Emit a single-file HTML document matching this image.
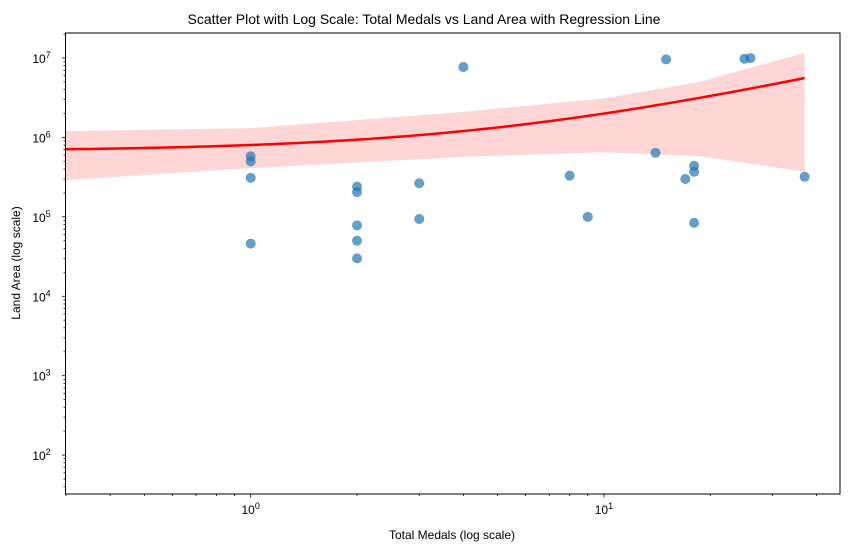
<!DOCTYPE html>
<html><head><meta charset="utf-8"><style>
body{margin:0;background:#fff;}
svg text{font-family:"Liberation Sans","DejaVu Sans",sans-serif;fill:#000;}
</style></head><body>
<svg id="chart" width="849" height="552" xmlns="http://www.w3.org/2000/svg">
<rect width="849" height="552" fill="#fff"/>
<g id="band"></g><g id="line"></g><g id="points"></g><g id="axes"></g>
<text x="424" y="24" text-anchor="middle" font-size="14">Scatter Plot with Log Scale: Total Medals vs Land Area with Regression Line</text>
<text x="452" y="539" text-anchor="middle" font-size="12">Total Medals (log scale)</text>
<text transform="translate(20,263) rotate(-90)" text-anchor="middle" font-size="12">Land Area (log scale)</text>
</svg>
<script>
const medals=[1,1,1,1,2,2,2,2,2,3,3,4,8,9,14,15,17,18,18,18,25,26,37];
const landArea=[580000,500000,310000,46000,240000,205000,78000,50000,30000,265000,94000,7700000,330000,100000,640000,9600000,300000,440000,370000,84000,9800000,9980000,320000];
const regIntercept=670000;
const regSlope=133000;
const bandX=[0.3,1,4,10,18.7,37];
const bandUpper=[1200000,1310000,2100000,3100000,5000000,11600000];
const bandLower=[290000,410000,570000,650000,580000,370000];
const xTickVals=[1,10];
const xTickLabels=["0","1"];
const yTickVals=[100,1000,10000,100000,1000000,10000000];
const yTickLabels=["2","3","4","5","6","7"];

const L=65.5,R=840,T=33,B=494;
const xLogMin=Math.log10(0.299),xLogMax=Math.log10(46.6);
const yLogMin=1.51,yLogMax=7.315;
const xs=v=>L+(Math.log10(v)-xLogMin)/(xLogMax-xLogMin)*(R-L);
const ys=v=>B-(Math.log10(v)-yLogMin)/(yLogMax-yLogMin)*(B-T);
const NS="http://www.w3.org/2000/svg";
function mk(tag,attrs,parent){const e=document.createElementNS(NS,tag);for(const k in attrs)e.setAttribute(k,attrs[k]);parent.appendChild(e);return e;}

// band
const bandG=document.getElementById('band');
let d="";
bandX.forEach((v,i)=>{d+=(i?"L":"M")+xs(v)+","+ys(bandUpper[i]);});
for(let i=bandX.length-1;i>=0;i--)d+="L"+xs(bandX[i])+","+ys(bandLower[i]);
const band=mk('path',{d:d+"Z",fill:"#ffd6d6"},bandG);



// regression line
const lineG=document.getElementById('line');
let ld="";const lo=Math.log10(0.3),hi=Math.log10(37);
for(let i=0;i<=100;i++){const m=Math.pow(10,lo+(hi-lo)*i/100);ld+=(i?"L":"M")+xs(m)+","+ys(regIntercept+regSlope*m);}
const rl=mk('path',{d:ld,fill:"none",stroke:"#ff0000","stroke-width":2.5},lineG);



// points
const pg=document.getElementById('points');
medals.forEach((m,i)=>{
 const c=mk('circle',{cx:xs(m),cy:ys(landArea[i]),r:5,fill:"#1f77b4","fill-opacity":0.7},pg);
 
 
});

// axes
const ag=document.getElementById('axes');
const frame=mk('rect',{x:L,y:T,width:R-L,height:B-T,fill:"none",stroke:"#000","stroke-width":1},ag);


// x ticks
for(let e=-1;e<=1;e++)for(let k=1;k<=9;k++){const v=k*Math.pow(10,e);if(v<0.299||v>46.6)continue;
 const x=xs(v);mk('line',{x1:x,x2:x,y1:B,y2:B+(k==1?3.5:2),stroke:"#000","stroke-width":0.8},ag);}
xTickVals.forEach((v,i)=>{const t=mk('text',{x:xs(v),y:B+20,"text-anchor":"middle","font-size":12},ag);
 t.innerHTML='10<tspan dy="-5" font-size="9">'+xTickLabels[i]+'</tspan>';
 
 });
// y ticks
for(let e=1;e<=7;e++)for(let k=1;k<=9;k++){const v=k*Math.pow(10,e);const lv=Math.log10(v);if(lv<yLogMin||lv>yLogMax)continue;
 const y=ys(v);mk('line',{x1:L,x2:L-(k==1?3.5:2),y1:y,y2:y,stroke:"#000","stroke-width":0.8},ag);}
yTickVals.forEach((v,i)=>{const t=mk('text',{x:L-24,y:ys(v)+5,"text-anchor":"middle","font-size":12},ag);
 t.innerHTML='10<tspan dy="-5" font-size="9">'+yTickLabels[i]+'</tspan>';
 
 });
</script>
</body></html>
